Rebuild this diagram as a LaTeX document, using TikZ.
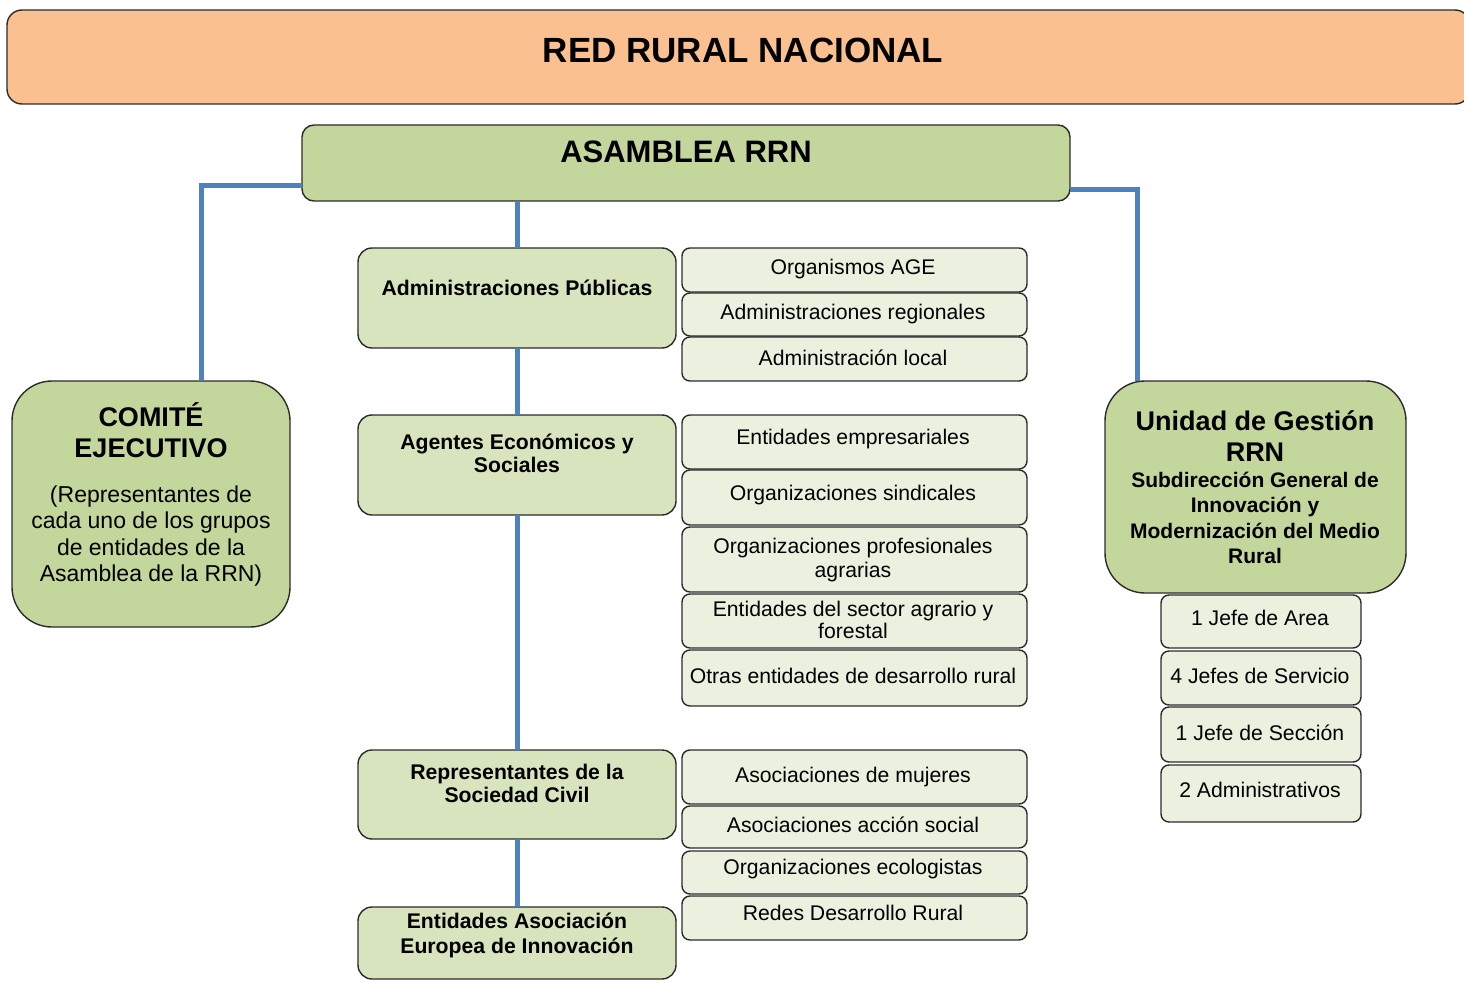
\documentclass[tikz,border=0pt]{standalone}
\usepackage{fontspec}
\setmainfont{Liberation Sans}
\usepackage{tikz}
\usetikzlibrary{calc}

\definecolor{rrnorange}{HTML}{FAC090}
\definecolor{rrngreen}{HTML}{C3D69B}
\definecolor{rrnpale}{HTML}{D7E4BD}
\definecolor{rrnlight}{HTML}{EBF1DE}
\definecolor{rrnblue}{HTML}{4F81BD}
\definecolor{rrnline}{HTML}{2B2B2B}

\begin{document}
\begin{tikzpicture}[x=0.5pt,y=0.5pt,yscale=-1,xscale=1,
  box/.style={draw=rrnline,line width=0.7pt,inner sep=0pt,outer sep=0pt},
  banner/.style={box,fill=rrnorange,rounded corners=7.5pt},
  asm/.style={box,fill=rrngreen,rounded corners=6pt},
  big/.style={box,fill=rrngreen,rounded corners=20pt},
  grp/.style={box,fill=rrnpale,rounded corners=7pt,minimum width=159pt},
  sub/.style={box,fill=rrnlight,rounded corners=4pt,minimum width=172.5pt},
  staff/.style={box,fill=rrnlight,rounded corners=4pt,minimum width=100pt},
  link/.style={draw=rrnblue,line width=2.5pt},
  txt/.style={inner sep=0pt,align=center,font=\fontsize{10.6}{12}\selectfont},
  btxt/.style={inner sep=0pt,align=center,font=\fontsize{10.6}{11.5}\selectfont\bfseries}]
\useasboundingbox (0,0) rectangle (1464,995);

%Rounded Rect: banner and assembly
\node[banner,minimum width=731.5pt,minimum height=47pt] (rrn) at (738.5,57) {};
\node[asm,minimum width=384pt,minimum height=38pt] (asm) at (686,163) {};

%Rounded Rect: side units
\node[big,minimum width=139pt,minimum height=123pt] (com) at (151,504) {};
\node[big,minimum width=150.5pt,minimum height=106pt] (uni) at (1255.5,487) {};

%Rounded Rect: groups of the assembly
\node[grp,minimum height=50pt] (adm) at (517,298) {};
\node[grp,minimum height=50pt] (age) at (517,465) {};
\node[grp,minimum height=44.5pt] (soc) at (517,794.5) {};
\node[grp,minimum height=36pt] (eip) at (517,943) {};

%Rounded Rect: members
\node[sub,minimum height=22pt] (ageb) at (854.5,270) {};
\node[sub,minimum height=21.5pt] (reg) at (854.5,314.5) {};
\node[sub,minimum height=22pt] (loc) at (854.5,359) {};
\node[sub,minimum height=27pt] (emp) at (854.5,442) {};
\node[sub,minimum height=27.5pt] (sind) at (854.5,497.5) {};
\node[sub,minimum height=32.5pt] (prof) at (854.5,559.5) {};
\node[sub,minimum height=27pt] (forest) at (854.5,621) {};
\node[sub,minimum height=28pt] (otras) at (854.5,678) {};
\node[sub,minimum height=27pt] (muj) at (854.5,777) {};
\node[sub,minimum height=21pt] (acc) at (854.5,827) {};
\node[sub,minimum height=21.5pt] (eco) at (854.5,872.5) {};
\node[sub,minimum height=22pt] (redes) at (854.5,918) {};

%Rounded Rect: staff
\node[staff,minimum height=26.5pt] (area) at (1261,621.5) {};
\node[staff,minimum height=27pt] (serv) at (1261,678) {};
\node[staff,minimum height=27.5pt] (secc) at (1261,734.5) {};
\node[staff,minimum height=28.5pt] (admv) at (1261,793.5) {};

%Straight Lines
\draw[link] ([yshift=-7.5pt]asm.south west) -| ([xshift=25pt]com.north);
\draw[link] ([yshift=-5.5pt]asm.south east) -| ([xshift=-59.25pt]uni.north);
\draw[link] (adm.north |- asm.south) -- (adm.north);
\draw[link] (adm.south) -- (age.north);
\draw[link] (age.south) -- (soc.north);
\draw[link] (soc.south) -- (eip.north);

% Text Node
\node[inner sep=0pt,font=\fontsize{17.5}{20}\selectfont\bfseries] (rrn-t) at (743,50) {RED RURAL NACIONAL};
% Text Node
\node[inner sep=0pt,font=\fontsize{15.5}{18}\selectfont\bfseries] (asm-t) at (686,152) {ASAMBLEA RRN};
% Text Node
\node[btxt,font=\fontsize{13.5}{15.5}\selectfont\bfseries] (com-t) at (151,430) {COMITÉ\\EJECUTIVO};
\node[txt,font=\fontsize{11.5}{13.25}\selectfont] (com-b) at (151,536) {(Representantes de\\cada uno de los grupos\\de entidades de la\\Asamblea de la RRN)};
% Text Node
\node[btxt,font=\fontsize{13.5}{15.5}\selectfont\bfseries] (uni-t) at (1255,436) {Unidad de Gestión\\RRN};
\node[btxt,font=\fontsize{10.5}{12.6}\selectfont\bfseries] (uni-b) at (1255,518) {Subdirección General de\\Innovación y\\Modernización del Medio\\Rural};
% Text Node
\node[btxt] (adm-t) at (517,288) {Administraciones Públicas};
\node[btxt] (age-t) at (517,453) {Agentes Económicos y\\Sociales};
\node[btxt] (soc-t) at (517,783) {Representantes de la\\Sociedad Civil};
\node[btxt,font=\fontsize{10.6}{12.5}\selectfont\bfseries] (eip-t) at (517,935) {Entidades Asociación\\Europea de Innovación};
% Text Node
\node[txt] (ageb-t) at (853,269) {Organismos AGE};
\node[txt] (reg-t) at (853,314) {Administraciones regionales};
\node[txt] (loc-t) at (853,358) {Administración local};
\node[txt] (emp-t) at (853,439) {Entidades empresariales};
\node[txt] (sind-t) at (853,495) {Organizaciones sindicales};
\node[txt] (prof-t) at (853,560) {Organizaciones profesionales\\agrarias};
\node[txt,font=\fontsize{10.6}{11}\selectfont] (forest-t) at (853,620) {Entidades del sector agrario y\\forestal};
\node[txt] (otras-t) at (853,676) {Otras entidades de desarrollo rural};
\node[txt] (muj-t) at (853,777) {Asociaciones de mujeres};
\node[txt] (acc-t) at (853,825) {Asociaciones acción social};
\node[txt] (eco-t) at (853,869) {Organizaciones ecologistas};
\node[txt] (redes-t) at (853,913) {Redes Desarrollo Rural};
% Text Node
\node[txt] (area-t) at (1260,618) {1 Jefe de Area};
\node[txt] (serv-t) at (1260,676) {4 Jefes de Servicio};
\node[txt] (secc-t) at (1260,733) {1 Jefe de Sección};
\node[txt] (admv-t) at (1260,790) {2 Administrativos};

\end{tikzpicture}
\end{document}
